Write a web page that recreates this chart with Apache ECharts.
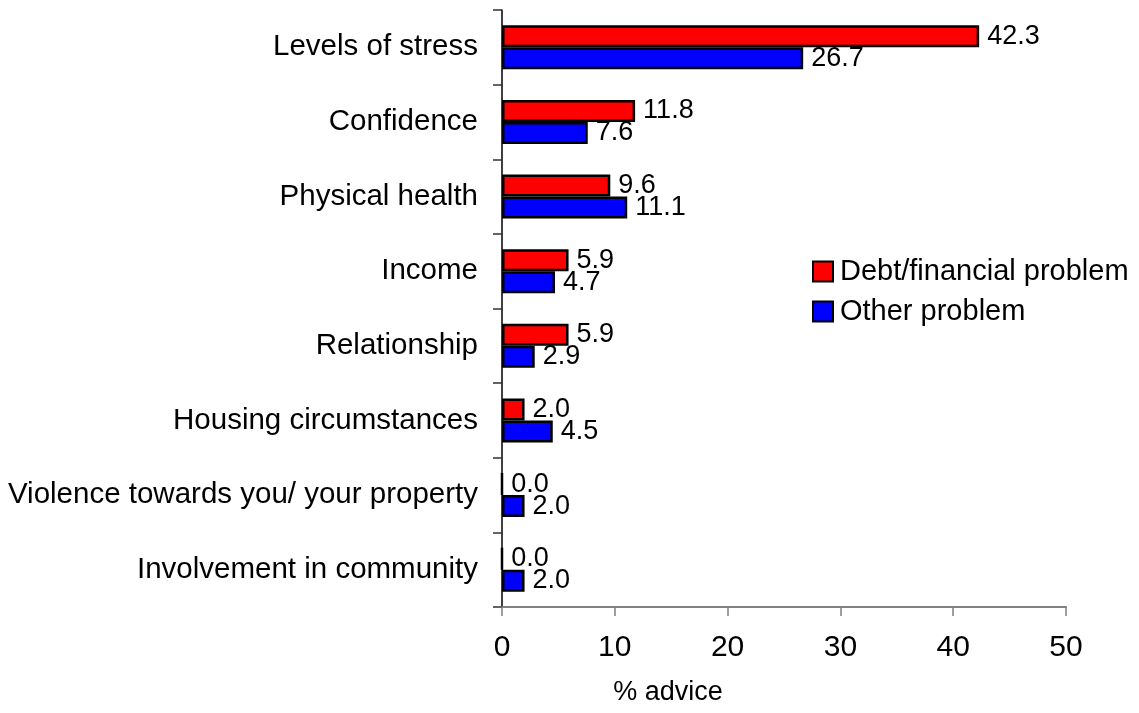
<!DOCTYPE html>
<html>
<head>
<meta charset="utf-8">
<script src="https://cdn.jsdelivr.net/npm/echarts@6/dist/echarts.min.js"></script>
<style>
  html, body { margin: 0; padding: 0; background: #fff; }
  #chart { width: 1139px; height: 713px; }
</style>
</head>
<body>
<div id="chart"></div>
<script>
// Effects reported, by type of problem advised on (% advice)
const categories = [
  'Levels of stress',
  'Confidence',
  'Physical health',
  'Income',
  'Relationship',
  'Housing circumstances',
  'Violence towards you/ your property',
  'Involvement in community'
];
const debtProblem = [42.3, 11.8, 9.6, 5.9, 5.9, 2.0, 0.0, 0.0];
const otherProblem = [26.7, 7.6, 11.1, 4.7, 2.9, 4.5, 2.0, 2.0];
const xTicks = [0, 10, 20, 30, 40, 50];

const FONT = '"Liberation Sans", Arial, sans-serif';

const chart = echarts.init(document.getElementById('chart'), null, { renderer: 'canvas' });

const valueLabel = {
  show: true,
  position: 'right',
  distance: 8,
  color: '#000',
  fontFamily: FONT,
  fontSize: 27,
  formatter: p => p.value.toFixed(1)
};

chart.setOption({
  animation: false,
  backgroundColor: '#fff',
  textStyle: { fontFamily: FONT, color: '#000' },
  grid: { left: 502, top: 10, width: 564, height: 597, containLabel: false },
  legend: {
    orient: 'vertical',
    left: 812,
    top: 257,
    padding: 0,
    itemWidth: 20,
    itemHeight: 20,
    itemGap: 11,
    icon: 'rect',
    textStyle: { fontFamily: FONT, fontSize: 29, color: '#000', padding: [0, 0, 0, 2] },
    data: ['Debt/financial problem', 'Other problem']
  },
  xAxis: {
    type: 'value',
    min: xTicks[0],
    max: xTicks[xTicks.length - 1],
    interval: 10,
    name: '% advice',
    nameLocation: 'middle',
    nameGap: 72,
    nameTextStyle: { fontFamily: FONT, fontSize: 27, color: '#000', padding: [0, 232, 0, 0] },
    axisLine: { show: true, lineStyle: { color: '#808080', width: 2 } },
    axisTick: { show: true, length: 9, lineStyle: { color: '#808080', width: 1.5 } },
    axisLabel: { margin: 26, fontFamily: FONT, fontSize: 30, color: '#000' },
    splitLine: { show: false }
  },
  yAxis: {
    type: 'category',
    inverse: true,
    data: categories,
    axisLine: { show: true, lineStyle: { color: '#000', width: 1.5 } },
    axisTick: { show: true, length: 9, lineStyle: { color: '#333', width: 1.5 } },
    axisLabel: { margin: 24, fontFamily: FONT, fontSize: 29.5, color: '#000' },
    splitLine: { show: false }
  },
  series: [
    {
      name: 'Debt/financial problem',
      type: 'bar',
      data: debtProblem,
      barGap: '0%',
      barCategoryGap: '41%',
      itemStyle: { color: '#ff0000', borderColor: '#000', borderWidth: 2.5 },
      label: valueLabel
    },
    {
      name: 'Other problem',
      type: 'bar',
      data: otherProblem,
      barGap: '0%',
      barCategoryGap: '41%',
      itemStyle: { color: '#0000ff', borderColor: '#000', borderWidth: 2.5 },
      label: valueLabel
    }
  ]
});
</script>
</body>
</html>
